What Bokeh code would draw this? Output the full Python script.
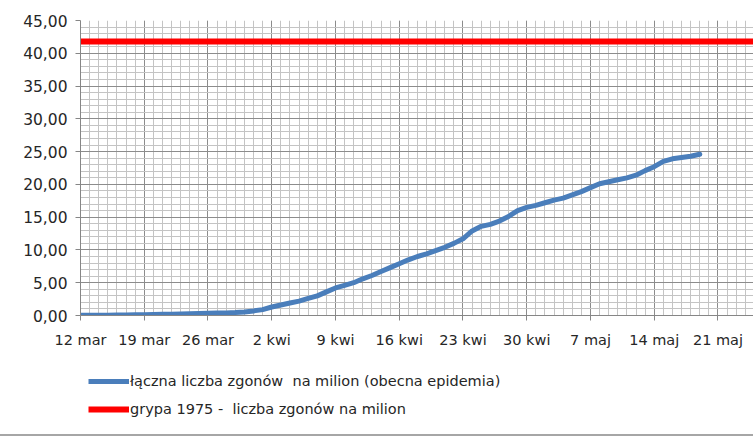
import pandas as pd
from bokeh.plotting import figure
from bokeh.layouts import column
from bokeh.models import Range1d, FixedTicker, CustomJSTickFormatter, Legend, LegendItem
from bokeh.embed import file_html
from bokeh.resources import INLINE

# ---- data ----
start_date = "2020-03-12"
covid_dates = pd.date_range(start_date, "2020-05-19", freq="D")
covid_values = [0.03, 0.03, 0.05, 0.05, 0.08, 0.08, 0.10, 0.13, 0.16, 0.18,
                0.20, 0.24, 0.28, 0.32, 0.35, 0.37, 0.40, 0.45, 0.55, 0.70,
                0.90, 1.30, 1.60, 1.90, 2.20, 2.60, 3.00, 3.60, 4.20, 4.60,
                5.00, 5.60, 6.10, 6.70, 7.30, 7.90, 8.50, 9.00, 9.40, 9.90,
                10.40, 11.00, 11.70, 12.90, 13.60, 13.90, 14.40, 15.10, 16.00, 16.50,
                16.80, 17.20, 17.60, 17.90, 18.40, 18.90, 19.50, 20.10, 20.40, 20.70,
                21.00, 21.40, 22.10, 22.70, 23.50, 23.90, 24.10, 24.30, 24.60]
flu_dates = pd.date_range(start_date, "2020-05-26", freq="D")
flu_values = [41.8] * len(flu_dates)

tick_dates = ["2020-03-12", "2020-03-19", "2020-03-26", "2020-04-02", "2020-04-09", "2020-04-16",
              "2020-04-23", "2020-04-30", "2020-05-07", "2020-05-14", "2020-05-21"]
tick_labels = ["12 mar", "19 mar", "26 mar", "2 kwi", "9 kwi", "16 kwi",
               "23 kwi", "30 kwi", "7 maj", "14 maj", "21 maj"]
covid_label = "łączna liczba zgonów  na milion (obecna epidemia)"
flu_label = "grypa 1975 -  liczba zgonów na milion"

t0 = pd.Timestamp(start_date)
def days(ds):
    return [(pd.Timestamp(d) - t0).days for d in ds]

covid_x = days(covid_dates)
flu_x = days(flu_dates)
tick_x = days(tick_dates)

FONT = "DejaVu Sans"
BLUE = "#4A7EBB"
RED = "#FF0000"

p = figure(width=753, height=360, output_backend="svg", toolbar_location=None,
           x_range=Range1d(0, 73.9), y_range=Range1d(0, 45),
           min_border_left=80, min_border_right=0, min_border_top=20, min_border_bottom=45)
p.outline_line_color = None
p.background_fill_color = "white"

p.line(covid_x, covid_values, line_color=BLUE, line_width=5, line_cap="round", line_join="round")
p.line(flu_x, flu_values, line_color=RED, line_width=6, line_cap="round")

# x axis
p.xaxis.ticker = FixedTicker(ticks=tick_x, minor_ticks=list(range(0, 76)))
p.xaxis.major_label_overrides = {t: l for t, l in zip(tick_x, tick_labels)}
p.xaxis.major_label_text_font = FONT
p.xaxis.major_label_text_font_size = "14.5px"
p.xaxis.major_label_text_color = "#262626"
p.xaxis.major_label_standoff = 11
p.xaxis.major_tick_out = 5
p.xaxis.major_tick_in = 0
p.xaxis.minor_tick_out = 0
p.xaxis.minor_tick_in = 0
p.xaxis.axis_line_color = "#868686"
p.xaxis.major_tick_line_color = "#868686"

# y axis
p.yaxis.ticker = FixedTicker(ticks=list(range(0, 46, 5)), minor_ticks=list(range(0, 46)))
p.yaxis.formatter = CustomJSTickFormatter(code="return tick.toFixed(2).replace('.', ',');")
p.yaxis.major_label_text_font = FONT
p.yaxis.major_label_text_font_size = "15.5px"
p.yaxis.major_label_text_color = "#262626"
p.yaxis.major_label_standoff = 8
p.yaxis.major_tick_out = 5
p.yaxis.major_tick_in = 0
p.yaxis.minor_tick_out = 0
p.yaxis.minor_tick_in = 0
p.yaxis.axis_line_color = "#868686"
p.yaxis.major_tick_line_color = "#868686"

# grids
for g in (p.xgrid, p.ygrid):
    g.grid_line_color = "#8C8C8C"
    g.grid_line_width = 1
    g.minor_grid_line_color = "#C4C4C4"
    g.minor_grid_line_width = 1
p.xgrid.ticker = p.xaxis.ticker
p.ygrid.ticker = p.yaxis.ticker

# legend panel (separate strip under the chart; its lines lie outside its view)
pl = figure(width=753, height=76, output_backend="svg", toolbar_location=None,
            x_axis_type=None, y_axis_type=None,
            x_range=Range1d(1000, 1001), y_range=Range1d(1000, 1001),
            min_border=0)
pl.outline_line_color = None
pl.xgrid.visible = False
pl.ygrid.visible = False
pl.styles = {"border-bottom": "2px solid #A6A6A6"}
lr_covid = pl.line(covid_x, covid_values, line_color=BLUE, line_width=5)
lr_flu = pl.line(flu_x, flu_values, line_color=RED, line_width=6)

legend = Legend(items=[LegendItem(label=covid_label, renderers=[lr_covid]),
                       LegendItem(label=flu_label, renderers=[lr_flu])],
                location=(8, 17), orientation="vertical",
                glyph_width=41, glyph_height=20, label_height=20, label_standoff=1,
                spacing=8, padding=0, margin=0,
                border_line_color=None, background_fill_alpha=0,
                label_text_font=FONT, label_text_font_size="14.5px", label_text_color="#262626")
pl.add_layout(legend, "center")

layout = column(p, pl, spacing=0)
open("out.html", "w").write(file_html(layout, INLINE))
